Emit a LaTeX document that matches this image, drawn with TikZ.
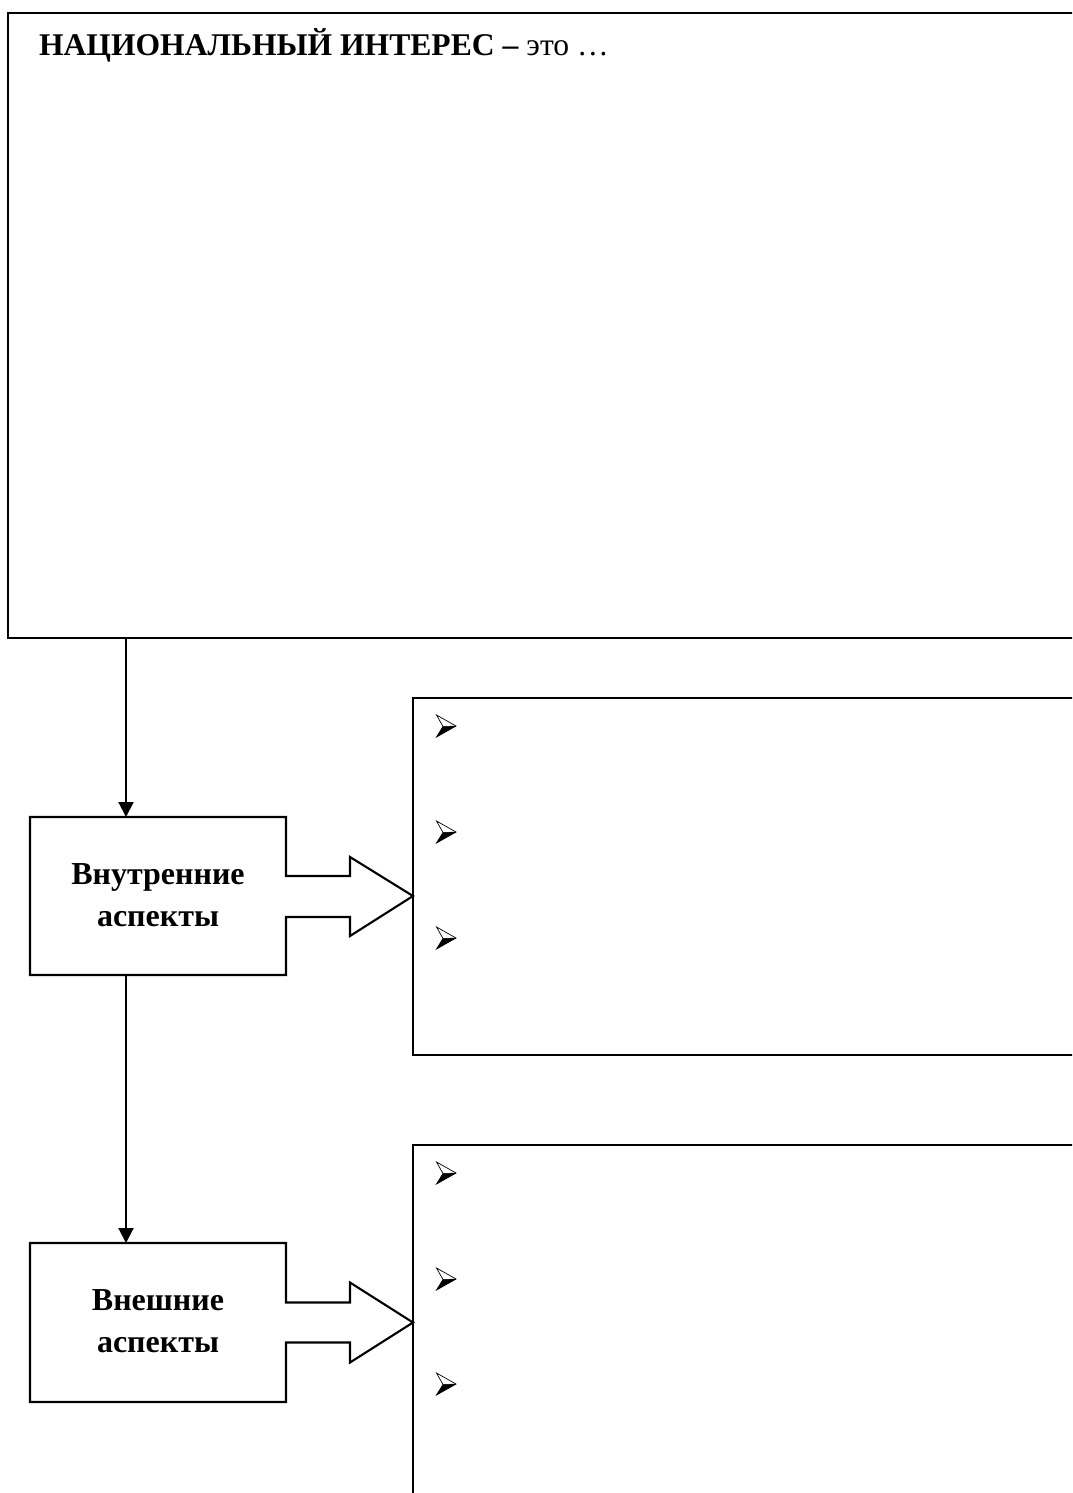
\documentclass[tikz,border=0pt]{standalone}
\usepackage{fontspec}
\setmainfont{Liberation Serif}
\usetikzlibrary{arrows.meta,calc}
\begin{document}
\begin{tikzpicture}[x=1pt,y=-1pt,
  line width=2.1pt,
  frame/.style={draw,line width=2.1pt,anchor=north west,inner sep=0pt,outer sep=0pt},
  aspect/.style={inner sep=0pt,outer sep=0pt,anchor=north west,minimum width=256pt,minimum height=158pt},
  aspecttext/.style={font=\fontsize{32}{42}\selectfont\bfseries,align=center,inner sep=0pt},
  arrowbullet/.pic={
    \fill[black] (-9.5,11) -- (10,0) -- (-3,0.5) -- cycle;
    \draw[line width=0.7pt,line join=miter] (-9.5,-11) -- (10,0) -- (-9.5,11) -- (-3,0.5) -- cycle;
    \draw[line width=0.5pt] (-3,0.5) -- (10,0);
  },
  conn/.style={-{Triangle[width=15pt,length=15pt]},line width=2.1pt}]
\useasboundingbox (0,0) rectangle (1072,1493);
\clip (0,0) rectangle (1072,1493);
\fill[white] (0,0) rectangle (1072,1493);
% top box
\node[frame,minimum width=1100pt,minimum height=625pt] (top) at (8,13) {};
\node[anchor=base west,inner sep=0pt,font=\fontsize{31.6}{36}\selectfont] (title) at (38,56)
  {\textbf{НАЦИОНАЛЬНЫЙ ИНТЕРЕС –} это …};
% aspect boxes (outline drawn below together with block arrows)
\node[aspect] (inner) at (30,817) {};
\node[aspecttext] (innerT) at ($(inner.center)+(0,-1)$) {Внутренние\\аспекты};
\node[aspect,minimum height=159pt] (outer) at (30,1243) {};
\node[aspecttext] (outerT) at ($(outer.center)+(0,-1)$) {Внешние\\аспекты};
% right boxes
\node[frame,minimum width=700pt,minimum height=357pt] (rb1) at (413,698) {};
\node[frame,minimum width=700pt,minimum height=400pt] (rb2) at (413,1145) {};
% bullets
\pic (b11) at (446,726) {arrowbullet};
\pic (b12) at (446,832) {arrowbullet};
\pic (b13) at (446,938) {arrowbullet};
\pic (b21) at (446,1173) {arrowbullet};
\pic (b22) at (446,1279) {arrowbullet};
\pic (b23) at (446,1384) {arrowbullet};
% box + block arrow outlines
\draw[line join=miter] (inner.north west) -- (inner.north east) -- ($(inner.east)+(0,-20)$)
  -- ($(inner.east)+(64,-20)$) -- ($(inner.east)+(64,-39)$) -- (rb1.west |- inner.east)
  -- ($(inner.east)+(64,40)$) -- ($(inner.east)+(64,21)$) -- ($(inner.east)+(0,21)$)
  -- (inner.south east) -- (inner.south west) -- cycle;
\draw[line join=miter] (outer.north west) -- (outer.north east) -- ($(outer.east)+(0,-20)$)
  -- ($(outer.east)+(64,-20)$) -- ($(outer.east)+(64,-40)$) -- (rb2.west |- outer.east)
  -- ($(outer.east)+(64,40)$) -- ($(outer.east)+(64,20)$) -- ($(outer.east)+(0,20)$)
  -- (outer.south east) -- (outer.south west) -- cycle;
% connectors
\coordinate (c1) at (126,638);
\draw[conn] (top.south west -| c1) -- (inner.north west -| c1);
\draw[conn] (inner.south west -| c1) -- (outer.north west -| c1);
\end{tikzpicture}
\end{document}
